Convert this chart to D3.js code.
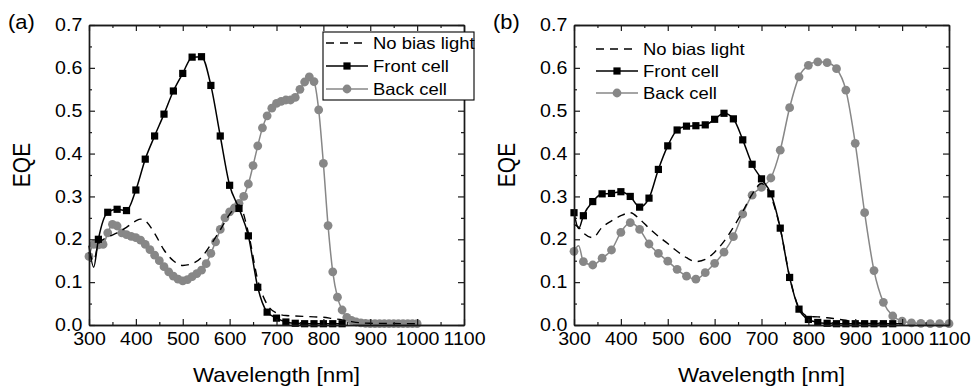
<!DOCTYPE html>
<html>
<head>
<meta charset="utf-8">
<script src="https://cdn.jsdelivr.net/npm/d3@7/dist/d3.min.js"></script>
<style>
  body { margin: 0; background: #fff; }
  svg { display: block; font-family: "Liberation Sans", Arial, sans-serif; }
  text { fill: #000; }
</style>
</head>
<body>
<svg id="chart" width="971" height="386"></svg>
<script>
// ---- data, panel (a) ----
var wlFrontA = [300,310,320,340,360,380,400,420,440,460,480,500,520,540,560,580,600,620,640,660,680,700,720,740,760,780,800,820,840];
var frontA   = [0.185,0.135,0.200,0.263,0.270,0.267,0.315,0.387,0.441,0.492,0.546,0.587,0.625,0.626,0.559,0.441,0.326,0.272,0.208,0.088,0.030,0.016,0.007,0.004,0.003,0.003,0.003,0.003,0.003];

var wlBackA = [300,310,320,330,340,350,360,370,380,390,400,410,420,430,440,450,460,470,480,490,500,510,520,530,540,550,560,570,580,590,600,610,620,630,640,650,660,670,680,690,700,710,720,730,740,750,760,770,780,790,800,810,820,830,840,850,860,870,880,890,900,910,920,930,940,950,960,970,980,990,1000];
var backA   = [0.160,0.188,0.187,0.188,0.215,0.235,0.231,0.215,0.211,0.207,0.204,0.198,0.188,0.176,0.163,0.150,0.136,0.124,0.114,0.107,0.103,0.106,0.113,0.120,0.128,0.143,0.167,0.194,0.223,0.250,0.264,0.273,0.284,0.300,0.329,0.372,0.418,0.460,0.488,0.506,0.517,0.522,0.525,0.525,0.531,0.550,0.567,0.579,0.568,0.502,0.377,0.232,0.124,0.065,0.035,0.018,0.011,0.007,0.005,0.004,0.003,0.003,0.003,0.003,0.003,0.003,0.003,0.003,0.003,0.003,0.003];

var wlNoBiasA = [300,310,320,340,360,380,400,410,420,440,460,480,500,520,540,560,580,600,620,640,660,680,700,720,740,760,780,800,820,840,860,880,900,1000];
var noBiasA   = [0.170,0.150,0.190,0.205,0.215,0.228,0.243,0.247,0.243,0.214,0.175,0.150,0.139,0.143,0.158,0.188,0.222,0.258,0.280,0.215,0.105,0.048,0.028,0.022,0.021,0.020,0.019,0.018,0.015,0.012,0.008,0.005,0.004,0.003];

// ---- data, panel (b) ----
var wlFrontB = [300,310,320,340,360,380,400,420,440,460,480,500,520,540,560,580,600,620,640,660,680,700,720,740,760,780,800,820,840,860,880,900,920,940,960,980];
var frontB   = [0.262,0.225,0.255,0.288,0.306,0.307,0.311,0.300,0.275,0.296,0.363,0.418,0.455,0.464,0.465,0.467,0.480,0.494,0.481,0.432,0.375,0.341,0.306,0.226,0.111,0.037,0.013,0.006,0.004,0.003,0.003,0.003,0.003,0.003,0.003,0.003];

var wlBackB = [300,310,320,340,360,380,400,420,440,460,480,500,520,540,560,580,600,620,640,660,680,700,720,740,760,780,800,820,840,860,880,900,920,940,960,980,1000,1020,1040,1060,1080,1100];
var backB   = [0.172,0.185,0.148,0.140,0.156,0.175,0.216,0.239,0.223,0.189,0.167,0.149,0.130,0.114,0.107,0.122,0.144,0.170,0.206,0.259,0.303,0.321,0.343,0.408,0.507,0.579,0.606,0.614,0.612,0.598,0.548,0.424,0.262,0.127,0.053,0.021,0.009,0.005,0.004,0.003,0.003,0.003];

var wlNoBiasB = [300,310,320,340,360,380,400,420,440,460,480,500,520,540,560,580,600,620,640,660,680,700,720,740,760,780,800,820,840,860,880,900,920,1000];
var noBiasB   = [0.235,0.228,0.215,0.204,0.228,0.243,0.255,0.262,0.247,0.226,0.207,0.190,0.172,0.157,0.148,0.153,0.170,0.195,0.228,0.265,0.305,0.330,0.300,0.225,0.113,0.040,0.020,0.019,0.017,0.014,0.011,0.007,0.004,0.003];

var xTicks = [300,400,500,600,700,800,900,1000,1100];
var yTicks = [0.0,0.1,0.2,0.3,0.4,0.5,0.6,0.7];
var legendNames = ["No bias light","Front cell","Back cell"];

var SX = 1.12;          // glyphs in the picture are a little wide
var GRAY = "#878787";
var DASH = "8,6";

var svg = d3.select("#chart");

function txt(sel, x, y, s, size, anchor) {
    return sel.append("text")
        .attr("transform", "translate(" + x + "," + y + ") scale(" + SX + ",1)")
        .attr("text-anchor", anchor || "start")
        .attr("font-size", size)
        .text(s);
}

function marker(sel, kind, cx, cy) {
    if (kind == "square") {
        sel.append("rect").attr("x", cx - 3.6).attr("y", cy - 3.6)
            .attr("width", 7.2).attr("height", 7.2).attr("fill", "#000");
    } else {
        sel.append("circle").attr("cx", cx).attr("cy", cy).attr("r", 4.4).attr("fill", GRAY);
    }
}

function drawPanel(p) {
    var x = d3.scaleLinear().domain([300, 1100]).range([p.x0, p.x1]);
    var y = d3.scaleLinear().domain([0, 0.7]).range([325, 25]);
    var g = svg.append("g");

    var line = d3.line()
        .x(function(d){ return x(d[0]); })
        .y(function(d){ return y(d[1]); })
        .curve(d3.curveMonotoneX);

    // back cell
    var back = d3.zip(p.wlBack, p.back);
    g.append("path").attr("d", line(back)).attr("fill", "none")
        .attr("stroke", GRAY).attr("stroke-width", 1.5);
    back.filter(p.backMark).forEach(function(d){ marker(g, "circle", x(d[0]), y(d[1])); });

    // no bias light
    g.append("path").attr("d", line(d3.zip(p.wlNoBias, p.noBias))).attr("fill", "none")
        .attr("stroke", "#000").attr("stroke-width", 1.4).attr("stroke-dasharray", DASH);

    // front cell
    var front = d3.zip(p.wlFront, p.front);
    g.append("path").attr("d", line(front)).attr("fill", "none")
        .attr("stroke", "#000").attr("stroke-width", 1.5);
    front.filter(p.frontMark).forEach(function(d){ marker(g, "square", x(d[0]), y(d[1])); });

    // axes, ticks pointing in
    var minorX = d3.range(350, 1100, 100);
    var minorY = d3.range(0.05, 0.7, 0.1);
    var axes = [
        [d3.axisBottom(x), 325, true],
        [d3.axisTop(x), 25, false]
    ];
    axes.forEach(function(a){
        var ag = g.append("g").attr("transform", "translate(0," + a[1] + ")")
            .call(a[0].tickValues(xTicks).tickSize(-6).tickSizeOuter(0).tickPadding(8)
                .tickFormat(a[2] ? d3.format("d") : ""));
        g.append("g").attr("transform", "translate(0," + a[1] + ")")
            .call(a[0].tickValues(minorX).tickSize(-3).tickSizeOuter(0).tickFormat(""));
        ag.selectAll(".tick text").attr("font-size", 17.5).attr("font-family", null)
            .attr("transform", "scale(" + SX + ",1)");
    });
    var yaxes = [
        [d3.axisLeft(y), p.x0, true],
        [d3.axisRight(y), p.x1, false]
    ];
    yaxes.forEach(function(a){
        var ag = g.append("g").attr("transform", "translate(" + a[1] + ",0)")
            .call(a[0].tickValues(yTicks).tickSize(-6).tickSizeOuter(0).tickPadding(6)
                .tickFormat(a[2] ? d3.format(".1f") : ""));
        g.append("g").attr("transform", "translate(" + a[1] + ",0)")
            .call(a[0].tickValues(minorY).tickSize(-3).tickSizeOuter(0).tickFormat(""));
        ag.selectAll(".tick text").attr("font-size", 17.5).attr("font-family", null)
            .attr("transform", "scale(" + SX + ",1)");
    });
    g.selectAll(".domain").attr("stroke", "#1a1a1a").attr("stroke-width", 1.4);
    g.selectAll(".tick line").attr("stroke", "#1a1a1a").attr("stroke-width", 1.2);

    // titles
    txt(g, p.x0 - 81, 29, p.tag, 19.5, "start");
    txt(g, (p.x0 + p.x1) / 2, 382, "Wavelength [nm]", 20, "middle");
    g.append("text")
        .attr("transform", "translate(" + (p.x0 - 59) + ",165) rotate(-90) scale(1," + SX + ")")
        .attr("text-anchor", "middle").attr("font-size", 21).text("EQE");

    // legend
    var L = p.legend;
    var lg = g.append("g");
    if (L.box) {
        lg.append("rect").attr("x", L.box[0]).attr("y", L.box[1])
            .attr("width", L.box[2]).attr("height", L.box[3])
            .attr("fill", "#fff").attr("stroke", "#000").attr("stroke-width", 1.1);
    }
    var styles = [
        {stroke: "#000", dash: DASH, kind: null},
        {stroke: "#000", dash: null, kind: "square"},
        {stroke: GRAY, dash: null, kind: "circle"}
    ];
    legendNames.forEach(function(name, i){
        var ly = L.y + i * L.dy;
        lg.append("line").attr("x1", L.x).attr("x2", L.x + 42).attr("y1", ly).attr("y2", ly)
            .attr("stroke", styles[i].stroke).attr("stroke-width", 1.5)
            .attr("stroke-dasharray", styles[i].dash);
        if (styles[i].kind) marker(lg, styles[i].kind, L.x + 21, ly);
        txt(lg, L.x + 47, ly + 6, name, 16.5, "start");
    });
}

drawPanel({
    tag: "(a)", x0: 89, x1: 464,
    wlFront: wlFrontA, front: frontA, wlBack: wlBackA, back: backA,
    wlNoBias: wlNoBiasA, noBias: noBiasA,
    frontMark: function(d){ return d[0] % 20 == 0 && d[0] >= 320; },
    backMark: function(d){ return true; },
    legend: {box: [323, 32, 151, 68], x: 326, y: 43, dy: 23}
});

drawPanel({
    tag: "(b)", x0: 574, x1: 949,
    wlFront: wlFrontB, front: frontB, wlBack: wlBackB, back: backB,
    wlNoBias: wlNoBiasB, noBias: noBiasB,
    frontMark: function(d){ return d[0] % 20 == 0; },
    backMark: function(d){ return d[0] % 20 == 0; },
    legend: {box: null, x: 596, y: 49, dy: 22}
});
</script>
</body>
</html>
